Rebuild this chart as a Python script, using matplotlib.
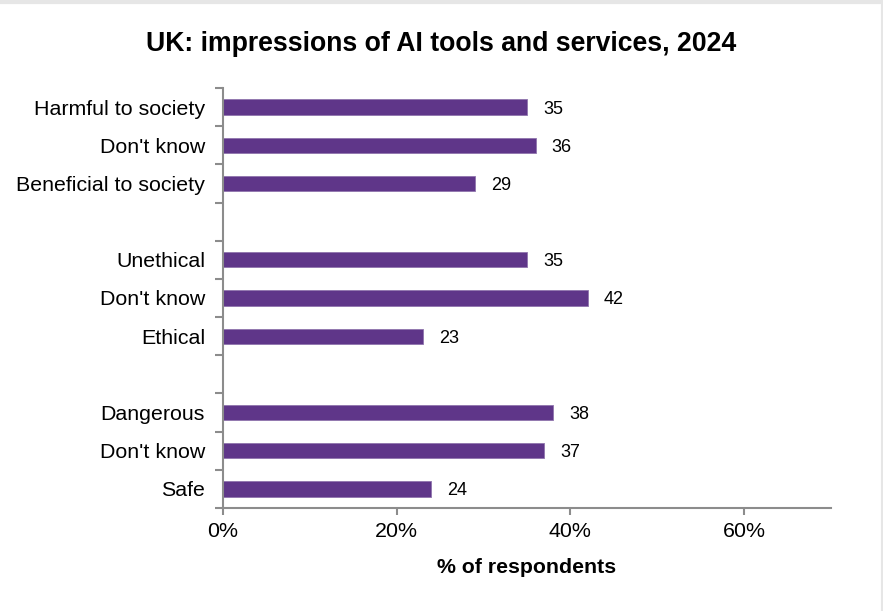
import numpy as np
import matplotlib.pyplot as plt
from matplotlib.lines import Line2D

plt.rcParams['font.family'] = ['Liberation Sans', 'DejaVu Sans']

# groups top to bottom, blank slot between groups
groups = [
    ["Harmful to society", "Don't know", "Beneficial to society"],
    ["Unethical", "Don't know", "Ethical"],
    ["Dangerous", "Don't know", "Safe"],
]
group_values = [
    [35, 36, 29],
    [35, 42, 23],
    [38, 37, 24],
]
x_ticks = [0, 20, 40, 60]
bar_color = '#5f3689'
axis_color = '#8c8c8c'

labels = []
values = []
for i, (g, v) in enumerate(zip(groups, group_values)):
    if i > 0:
        labels.append("")
        values.append(np.nan)
    labels += g
    values += v

pos = np.arange(len(labels))

fig = plt.figure(figsize=(8.83, 6.11), dpi=100)
ax = fig.add_axes([0.2525, 0.1686, 0.6886, 0.6874])

ax.barh(pos, values, height=0.4, color=bar_color, edgecolor='#8f74ad', linewidth=0.6)
for p, v in zip(pos, values):
    if not np.isnan(v):
        ax.text(v + 1.85, p, f"{v:.0f}", va='center_baseline', ha='left', fontsize=13)

ax.set_ylim(len(labels) - 0.5, -0.5)
ax.set_xlim(0, 70)
ax.set_yticks(pos)
ax.set_yticklabels(labels, fontsize=15.4)
ax.set_yticks(np.arange(len(labels) + 1) - 0.5, minor=True)
ax.tick_params(axis='y', which='major', length=0, pad=13)
ax.tick_params(axis='y', which='minor', length=6, width=1.5, color=axis_color)

ax.set_xticks(x_ticks)
ax.set_xticklabels([f"{t}%" for t in x_ticks], fontsize=15.4)
ax.tick_params(axis='x', length=5, width=1.5, color=axis_color, pad=5)
ax.set_xlabel("% of respondents", fontsize=15.3, fontweight='bold', labelpad=12)

for s in ['top', 'right']:
    ax.spines[s].set_visible(False)
for s in ['left', 'bottom']:
    ax.spines[s].set_color(axis_color)
    ax.spines[s].set_linewidth(1.5)

fig.text(0.4995, 0.928, "UK: impressions of AI tools and services, 2024",
         ha='center', va='center', fontsize=19.2, fontweight='bold')

# light frame on top and right edges
fig.add_artist(Line2D([0, 1], [0.9975, 0.9975], color='#e6e6e6', lw=3, transform=fig.transFigure))
fig.add_artist(Line2D([0.9985, 0.9985], [0, 1], color='#e6e6e6', lw=1.5, transform=fig.transFigure))

fig.savefig("out.png", dpi=100)
